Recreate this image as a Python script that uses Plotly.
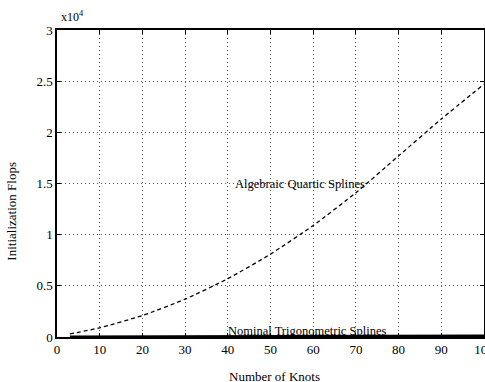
import plotly.graph_objects as go

knots_alg = [3, 10, 20, 30, 40, 50, 60, 70, 80, 90, 100]
flops_alg = [300, 900, 2100, 3700, 5700, 8100, 10900, 14100, 17700, 21300, 24700]

knots_trig = [3, 20, 40, 60, 80, 100]
flops_trig = [20, 40, 60, 80, 100, 120]

x_ticks = [0, 10, 20, 30, 40, 50, 60, 70, 80, 90, 100]
y_ticks = [0, 5000, 10000, 15000, 20000, 25000, 30000]
y_tick_text = ["0", "0.5", "1", "1.5", "2", "2.5", "3"]

font = "Liberation Serif, Times New Roman, serif"

fig = go.Figure()
fig.add_trace(go.Scatter(x=knots_alg, y=flops_alg, mode="lines",
                         line=dict(color="black", width=1.3, dash="4px,3px", shape="spline", smoothing=0.6),
                         showlegend=False))
fig.add_trace(go.Scatter(x=knots_trig, y=flops_trig, mode="lines", line=dict(color="black", width=2.5), showlegend=False))

fig.add_annotation(x=57, y=15000, text="Algebraic Quartic Splines", showarrow=False,
                   font=dict(family=font, size=12.5, color="black"))
fig.add_annotation(x=58.5, y=600, text="Nominal Trigonometric Splines", showarrow=False,
                   font=dict(family=font, size=12.5, color="black"))
fig.add_annotation(x=0, y=1, xref="paper", yref="paper", xanchor="left", yanchor="bottom", yshift=4, xshift=2,
                   text="x10<sup>4</sup>", showarrow=False, font=dict(family=font, size=12, color="black"))
fig.add_annotation(x=0.51, y=0, xref="paper", yref="paper", xanchor="center", yanchor="top", yshift=-30,
                   text="Number of Knots", showarrow=False, font=dict(family=font, size=13, color="black"))
fig.add_annotation(x=0, y=0.41, xref="paper", yref="paper", xanchor="right", yanchor="middle", xshift=-36,
                   text="Initialization Flops", textangle=-90, showarrow=False,
                   font=dict(family=font, size=13, color="black"))

axis_common = dict(showline=True, linecolor="black", linewidth=1.5, mirror="allticks", ticks="inside", ticklen=4,
                   tickcolor="black", showgrid=True, gridcolor="#555", griddash="1px,3px", gridwidth=1, zeroline=False,
                   automargin=False, ticklabeloverflow="allow", tickfont=dict(family=font, size=13, color="black"))

fig.update_layout(
    width=485, height=382, plot_bgcolor="white", paper_bgcolor="white",
    margin=dict(l=57, r=1, t=30, b=45),
    xaxis=dict(range=[0, 100], tickvals=x_ticks, **axis_common),
    yaxis=dict(range=[0, 30000], tickvals=y_ticks, ticktext=y_tick_text, **axis_common),
)
fig.write_html("out.html", config={"displayModeBar": False},
               post_script="document.body.style.margin='0';document.body.style.overflow='hidden';")
